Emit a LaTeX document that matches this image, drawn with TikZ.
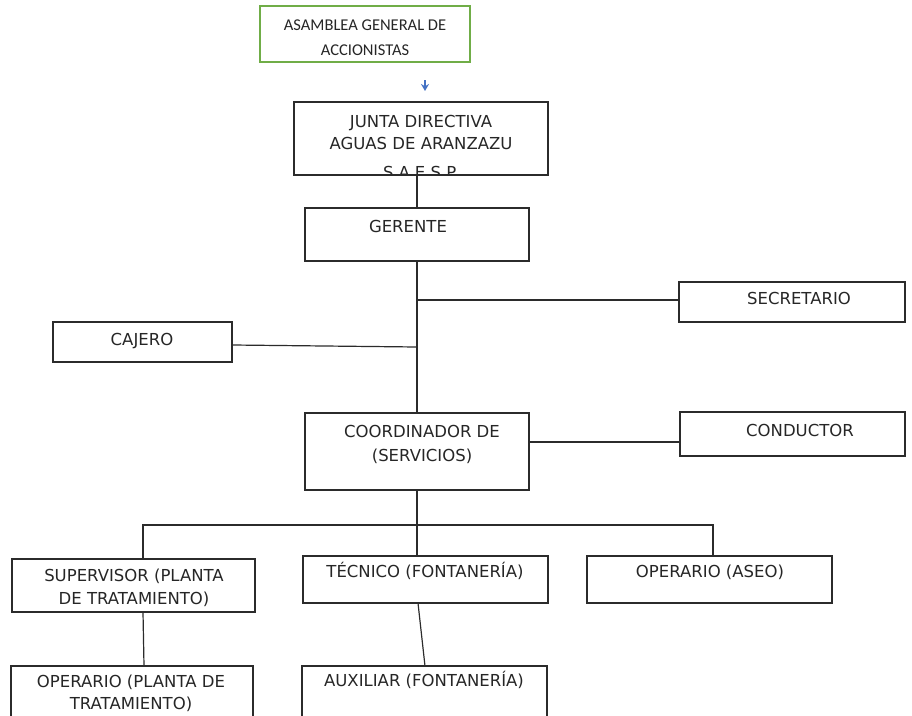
\documentclass[tikz,border=0pt]{standalone}
\usepackage{fontspec}
\setmainfont{DejaVu Sans}
\newfontfamily\asmfont{Carlito}
\usetikzlibrary{arrows.meta,fit}
\definecolor{lineg}{HTML}{2B2B2B}
\definecolor{txtg}{HTML}{262626}
\definecolor{boxgreen}{HTML}{70AD47}
\definecolor{arrblue}{HTML}{4472C4}
\tikzset{
  orgbox/.style={draw=lineg, line width=1.3pt, rectangle, inner sep=0pt},
  lbl/.style={text=txtg, font=\fontsize{16.5}{23}\selectfont, align=center, inner sep=0pt, anchor=mid, yshift=-3pt},
  asmlbl/.style={text=txtg, font=\asmfont\fontsize{16.5}{25}\selectfont, align=center, inner sep=0pt, anchor=mid, yshift=-3pt},
  conn/.style={draw=lineg, line width=1.2pt},
}
\newcommand{\orgrect}[5]{% name, x1, y1, x2, y2
  \path (#2,#3) coordinate (#1-nw) (#4,#5) coordinate (#1-se);
  \node[orgbox, fit=(#1-nw)(#1-se)] (#1) {};
}
\begin{document}
\begin{tikzpicture}[x=1pt,y=-1pt]
\useasboundingbox (0,0) rectangle (912,715);
% boxes
\path (260,6) coordinate (asm-nw) (470,62) coordinate (asm-se);
\node[draw=boxgreen, line width=1.3pt, inner sep=0pt, fit=(asm-nw)(asm-se)] (asm) {};
\node[asmlbl] (asmT1) at (365,25) {ASAMBLEA GENERAL DE};
\node[asmlbl] (asmT2) at (365,50) {ACCIONISTAS};
% small blue arrow
\coordinate (arrA) at (425,80);
\coordinate (arrB) at (425,91);
\draw[arrblue, line width=1.6pt, -{Stealth[length=7pt,width=8pt]}] (arrA) -- (arrB);

\orgrect{junta}{294}{102}{548}{175}
\begin{scope}
\clip (294,102) rectangle (548,173.5);
\node[lbl] (juntaT1) at (421,122) {JUNTA DIRECTIVA};
\node[lbl] (juntaT2) at (421,144) {AGUAS DE ARANZAZU};
\node[lbl] (juntaT3) at (421,173) {S.A.E.S.P.};
\end{scope}
\orgrect{gerente}{305}{208}{529}{261}
\node[lbl] (gerenteT) at (408,227) {GERENTE};
\orgrect{secre}{679}{282}{905}{322}
\node[lbl] (secreT) at (799,299) {SECRETARIO};
\orgrect{cajero}{53}{322}{232}{362}
\node[lbl] (cajeroT) at (142,340) {CAJERO};
\orgrect{coord}{305}{413}{529}{490}
\node[lbl] (coordT1) at (422,432) {COORDINADOR DE};
\node[lbl] (coordT2) at (422,456) {(SERVICIOS)};
\orgrect{cond}{680}{412}{905}{456}
\node[lbl] (condT) at (800,431) {CONDUCTOR};
\orgrect{super}{12}{559}{255}{612}
\node[lbl] (superT1) at (134,576) {SUPERVISOR (PLANTA};
\node[lbl] (superT2) at (134,599) {DE TRATAMIENTO)};
\orgrect{tecn}{303}{556}{548}{603}
\node[lbl] (tecnT) at (425,572) {TÉCNICO (FONTANERÍA)};
\orgrect{aseo}{587}{556}{832}{603}
\node[lbl] (aseoT) at (710,572) {OPERARIO (ASEO)};
\orgrect{opp}{11}{666}{253}{730}
\node[lbl] (oppT1) at (131,682) {OPERARIO (PLANTA DE};
\node[lbl] (oppT2) at (131,704) {TRATAMIENTO)};
\orgrect{aux}{302}{666}{547}{730}
\node[lbl] (auxT) at (424,681) {AUXILIAR (FONTANERÍA)};

% connectors
\draw[conn] (gerente.north |- junta.south) -- (gerente.north);
\coordinate (spine1) at (417,261);
\coordinate (spine2) at (417,413);
\draw[conn] (spine1) -- (spine2);
\coordinate (secJ) at (417,300);
\draw[conn] (secJ) -- (secre.west |- secJ);
\coordinate (cajJ) at (417,347);
\draw[conn] (cajero.east |- 0,345) -- (cajJ);
\coordinate (condJ) at (529,442);
\draw[conn] (condJ) -- (cond.west |- condJ);
\coordinate (cb) at (417,490);
\coordinate (tt) at (417,556);
\draw[conn] (cb) -- (tt);
\coordinate (busL) at (143,525);
\coordinate (busR) at (713,525);
\draw[conn] (busL |- super.north) -- (busL) -- (busR) -- (busR |- aseo.north);
\coordinate (supB) at (143,612);
\coordinate (oppTop) at (144,666);
\draw[conn] (supB) -- (oppTop);
\coordinate (tecB) at (418,603);
\coordinate (auxTop) at (425,666);
\draw[conn] (tecB) -- (auxTop);
\end{tikzpicture}
\end{document}
